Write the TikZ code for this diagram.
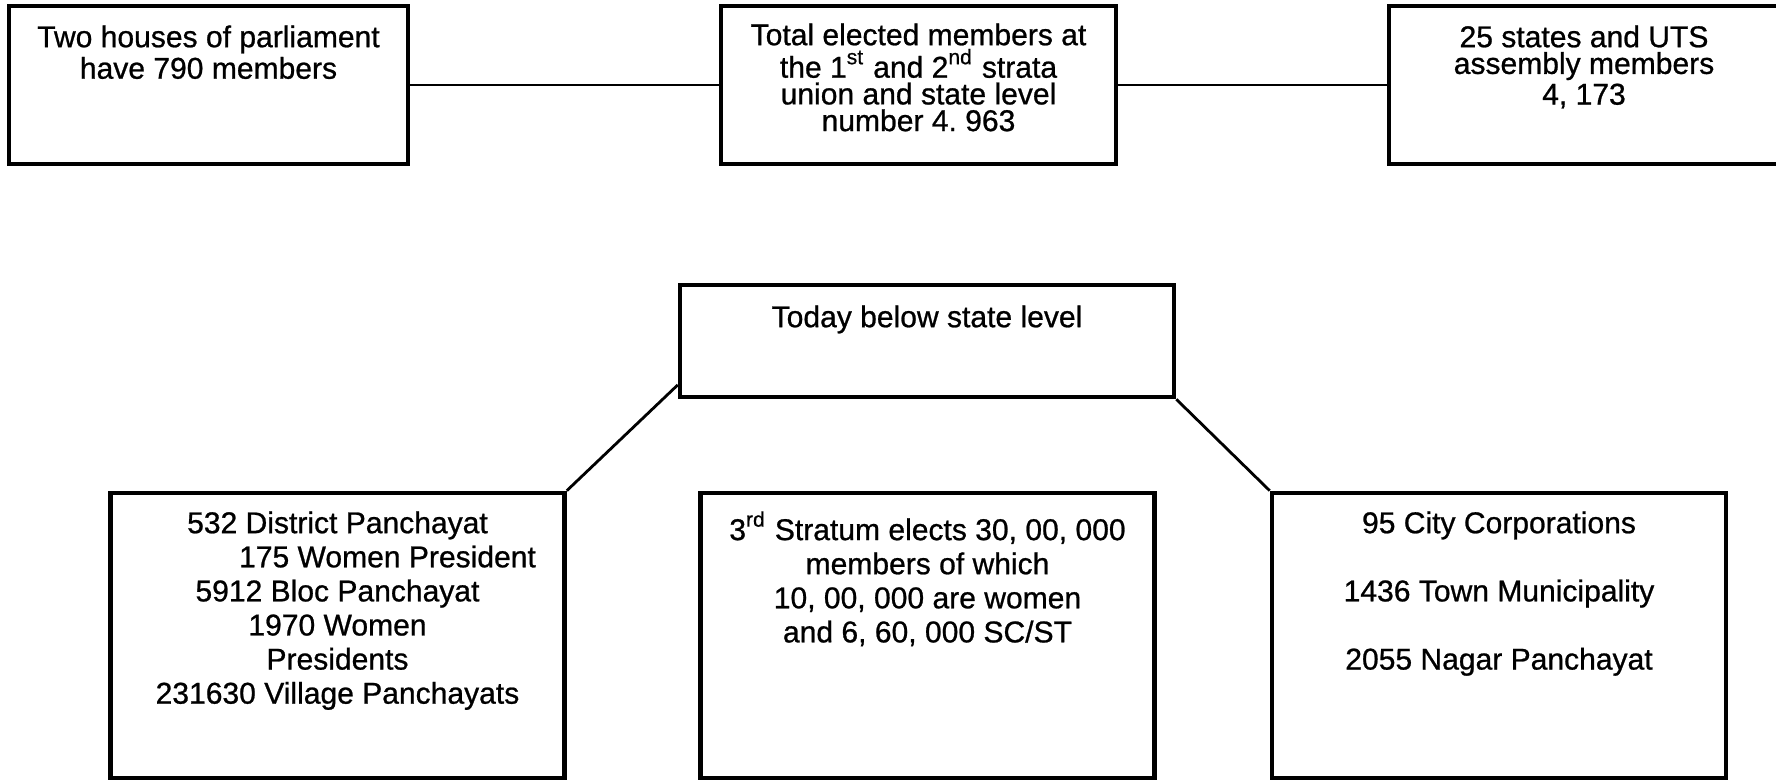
\documentclass[tikz,border=0pt]{standalone}
\usepackage{fontspec}
\setmainfont{Liberation Sans}[UprightFeatures={FakeBold=0.8}]
\frenchspacing
\usetikzlibrary{positioning}
\tikzset{panel/.style={draw, line width=1.3pt, inner sep=0pt, minimum height=1.58cm},
	lowpanel/.style={panel, minimum height=2.85cm, minimum width=4.54cm},
	tight/.style={align=center, inner sep=0pt, font=\fontsize{8.55}{7.6}\selectfont},
	loose/.style={align=center, inner sep=0pt, font=\fontsize{8.55}{9.7}\selectfont},
	link/.style={line width=.8pt}}

\begin{document}
\begin{tikzpicture}
	\useasboundingbox (0,0) rectangle (17.76,7.83);
	\node[panel, minimum width=3.99cm] (house) at (2.085,6.98) {};
	\node[panel, minimum width=3.95cm] (total) at (9.185,6.98) {};
	\node[panel, minimum width=3.90cm] (assembly) at (15.84,6.98) {};
	\node[tight, below=.21 of house.north] (house-t) {Two houses of parliament\\have 790 members};
	\node[tight, below=.19 of total.north] (total-t) {Total elected members at\\the 1\textsuperscript{st} and 2\textsuperscript{nd} strata\\union and state level\\number 4. 963};
	\node[tight, below=.21 of assembly.north] (assembly-t) {25 states and UTS\\assembly members\\4, 173};
	\draw[link] (house.east)--(total.west);
	\draw[link] (total.east)--(assembly.west);
	\node[panel, minimum width=4.94cm, minimum height=1.12cm] (today) at (9.27,4.42) {};
	\node[tight, below=.22 of today.north] (today-t) {Today below state level};
	\node[lowpanel] (rural) at (3.375,1.475) {};
	\node[lowpanel] (stratum) at (9.275,1.475) {};
	\node[lowpanel] (urban) at (14.99,1.475) {};
	\node[loose, below=.20 of rural.north] (rural-t) {532 District Panchayat\\\hspace*{1cm}175 Women President\\5912 Bloc Panchayat\\1970 Women\hspace*{.56cm}\\Presidents\hspace*{.66cm}\\231630 Village Panchayats};
	\node[loose, below=.20 of stratum.north] (stratum-t) {3\textsuperscript{rd} Stratum elects 30, 00, 000\\members of which\\10, 00, 000 are women\\and 6, 60, 000 SC/ST};
	\node[loose, below=.20 of urban.north] (urban-t) {95 City Corporations\\[9.7pt]1436 Town Municipality\\[9.7pt]2055 Nagar Panchayat};
	\draw[link] (today.190)--(rural.north east);
	\draw[link] (today.south east)--(urban.north west);
\end{tikzpicture}
\end{document}
